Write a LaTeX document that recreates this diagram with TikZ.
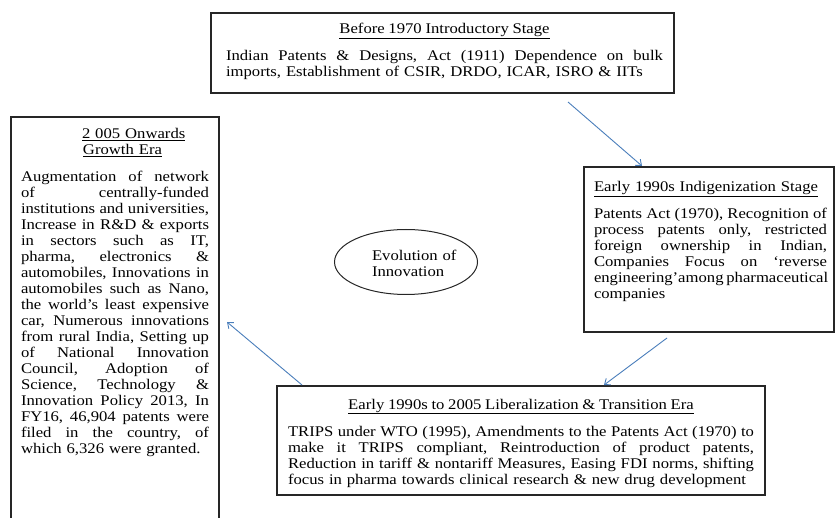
\documentclass[tikz,border=0pt]{standalone}
\usepackage{fontspec}
\setmainfont{Liberation Serif}[FakeStretch=1.13]
\usetikzlibrary{arrows.meta,shapes.geometric}

\definecolor{connblue}{RGB}{74,126,187}

% one fully justified line, and one line at its natural width
\newcommand\jl[1]{\par\noindent\hbox to\hsize{\spaceskip=0.25em plus 1fil minus 0.06em\relax\strut#1}}
\newcommand\nl[1]{\par\noindent\hbox{\strut#1}}
\newcommand\ttl[1]{\underline{#1}}

\tikzset{
  stagebox/.style={draw=black!85, line width=1.1pt, anchor=north west,
    inner sep=0pt, outer sep=0pt},
  stagetext/.style={anchor=north west, inner sep=0pt, outer sep=0pt,
    font=\fontsize{14.75pt}{16pt}\selectfont\frenchspacing},
  conn/.style={draw=connblue, line width=0.9pt,
    -{Straight Barb[length=5pt,width=8pt]}}
}

\begin{document}
\begin{tikzpicture}[x=1pt,y=-1pt]
\useasboundingbox (0,0) rectangle (835,518);
\clip (0,0) rectangle (835,518);

% ---- Before 1970
\node[stagebox, minimum width=463pt, minimum height=80pt] (tb) at (211,13) {};
\node[stagetext, text width=437pt] (tbt) at (226,18) {%
  \jl{\hfil\ttl{Before 1970 Introductory Stage}\hfil}
  \par\vspace{9pt}
  \jl{Indian Patents \& Designs, Act (1911) Dependence on bulk}
  \nl{imports, Establishment of CSIR, DRDO, ICAR, ISRO \& IITs}};

% ---- 2005 onwards
\node[stagebox, minimum width=208pt, minimum height=430pt] (lb) at (11,117) {};
\node[stagetext, text width=188pt] (lbt) at (21,123) {%
  \nl{\hspace*{61pt}\ttl{2 005 Onwards}}
  \nl{\hspace*{62pt}\ttl{Growth Era}}
  \par\vspace{11pt}
  \jl{Augmentation of network}
  \jl{of centrally-funded}
  \jl{institutions and universities,}
  \jl{Increase in R\&D \& exports}
  \jl{in sectors such as IT,}
  \jl{pharma, electronics \&}
  \jl{automobiles, Innovations in}
  \jl{automobiles such as Nano,}
  \jl{the world’s least expensive}
  \jl{car, Numerous innovations}
  \jl{from rural India, Setting up}
  \jl{of National Innovation}
  \jl{Council, Adoption of}
  \jl{Science, Technology \&}
  \jl{Innovation Policy 2013, In}
  \jl{FY16, 46,904 patents were}
  \jl{filed in the country, of}
  \nl{which 6,326 were granted.}};

% ---- Early 1990s indigenization
\node[stagebox, minimum width=250pt, minimum height=165pt] (rb) at (584,167) {};
\node[stagetext, text width=233pt] (rbt) at (594,176) {%
  \nl{\ttl{Early 1990s Indigenization Stage}}
  \par\vspace{9pt}
  \jl{Patents Act (1970), Recognition of}
  \jl{process patents only, restricted}
  \jl{foreign ownership in Indian,}
  \jl{Companies Focus on ‘reverse}
  \jl{engineering’among pharmaceutical}
  \nl{companies}};

% ---- Liberalization
\node[stagebox, minimum width=488pt, minimum height=109pt] (bb) at (277,386) {};
\node[stagetext, text width=466pt] (bbt) at (288,393) {%
  \jl{\hfil\ttl{Early 1990s to 2005 Liberalization \& Transition Era}\hfil}
  \par\vspace{10pt}
  \jl{TRIPS under WTO (1995), Amendments to the Patents Act (1970) to}
  \jl{make it TRIPS compliant, Reintroduction of product patents,}
  \jl{Reduction in tariff \& nontariff Measures, Easing FDI norms, shifting}
  \nl{focus in pharma towards clinical research \& new drug development}};

% ---- centre
\node[ellipse, draw=black!85, line width=1pt, minimum width=143pt,
  minimum height=65pt, inner sep=0pt] (evo) at (406,262) {};
\node[stagetext, text width=90pt] (evot) at (372,245) {%
  \nl{Evolution of}
  \nl{Innovation}};

% ---- cycle arrows
\draw[conn] ([xshift=357pt,yshift=-9pt]tb.south west) -- ([xshift=58pt,yshift=1pt]rb.north west);
\draw[conn] ([xshift=83pt,yshift=-6pt]rb.south west) -- ([xshift=327pt,yshift=1pt]bb.north west);
\draw[conn] ([xshift=25pt,yshift=1pt]bb.north west) -- ([xshift=8pt,yshift=-205pt]lb.north east);
\end{tikzpicture}
\end{document}
